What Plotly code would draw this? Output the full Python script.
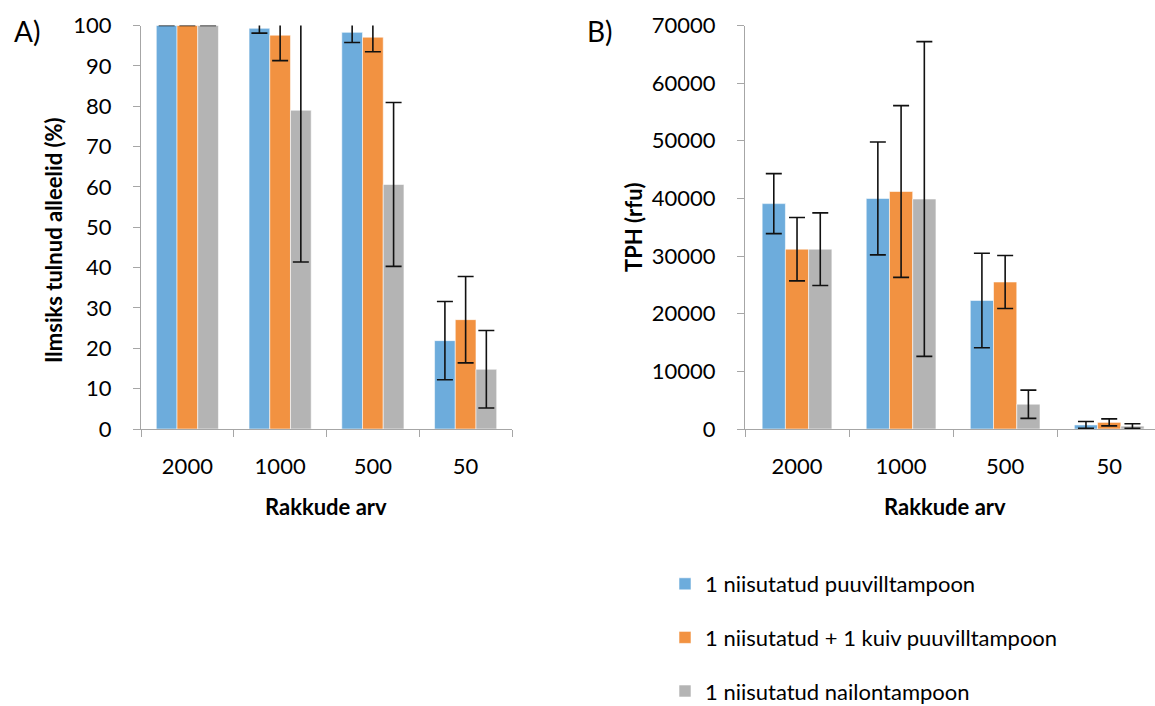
import plotly.graph_objects as go

categories = ["2000", "1000", "500", "50"]
series_names = [
    "1 niisutatud puuvilltampoon",
    "1 niisutatud + 1 kuiv puuvilltampoon",
    "1 niisutatud nailontampoon",
]
colors = ["#6DACDC", "#F29241", "#B4B4B4"]

# Panel A: Ilmsiks tulnud alleelid (%)
a_blue = [100, 99.3, 98.3, 21.9]
a_blue_err = [None, 1.2, 2.5, 9.7]
a_orange = [100, 97.6, 97.1, 27.1]
a_orange_err = [None, 6.3, 3.6, 10.7]
a_gray = [100, 79.0, 60.6, 14.8]
a_gray_err = [None, 37.6, 20.3, 9.6]

# Panel B: TPH (rfu)
b_blue = [39100, 40000, 22300, 700]
b_blue_err = [5200, 9800, 8200, 600]
b_orange = [31200, 41200, 25500, 1150]
b_orange_err = [5500, 14900, 4600, 600]
b_gray = [31200, 39900, 4300, 500]
b_gray_err = [6300, 27300, 2450, 400]

a_vals = [a_blue, a_orange, a_gray]
a_errs = [a_blue_err, a_orange_err, a_gray_err]
b_vals = [b_blue, b_orange, b_gray]
b_errs = [b_blue_err, b_orange_err, b_gray_err]

FONT = "Lato"
W, H = 1155, 706

fig = go.Figure()

def err(arr):
    return dict(type="data", array=arr, visible=True, color="#111111",
                thickness=1.6, width=8)

for i in range(3):
    fig.add_trace(go.Bar(
        x=categories, y=a_vals[i], name=series_names[i],
        marker=dict(color=colors[i], line=dict(color="rgba(255,255,255,0.7)", width=0.8)),
        error_y=err(a_errs[i]), xaxis="x", yaxis="y",
        legendgroup=f"g{i}", showlegend=True,
    ))
for i in range(3):
    fig.add_trace(go.Bar(
        x=categories, y=b_vals[i], name=series_names[i],
        marker=dict(color=colors[i], line=dict(color="rgba(255,255,255,0.7)", width=0.8)),
        error_y=err(b_errs[i]), xaxis="x2", yaxis="y2",
        legendgroup=f"g{i}", showlegend=False,
    ))

axis_line = dict(showline=True, linecolor="#A6A6A6", linewidth=1.3,
                 ticks="outside", tickcolor="#A6A6A6", ticklen=7, tickwidth=1.3,
                 showgrid=False, zeroline=False, automargin=False,
                 tickfont=dict(family=FONT, size=22, color="#000000"))

ydom = [1 - 429 / H, 1 - 25.5 / H]

fig.update_layout(
    width=W, height=H,
    margin=dict(l=0, r=0, t=0, b=0, autoexpand=False),
    paper_bgcolor="white", plot_bgcolor="white",
    barmode="group", bargap=0.33, bargroupgap=0,
    font=dict(family=FONT, color="#000000"),
    xaxis=dict(domain=[141 / W, 512 / W], type="category", range=[-0.5, 3.5],
               tickson="boundaries", anchor="y", ticklabelstandoff=17, **axis_line),
    yaxis=dict(domain=ydom, range=[0, 100], dtick=10, anchor="x",
               ticklabelstandoff=17, **axis_line),
    xaxis2=dict(domain=[745 / W, 1.0], type="category", range=[-0.5, 3.44],
                tickson="boundaries", anchor="y2", ticklabelstandoff=17, **axis_line),
    yaxis2=dict(domain=ydom, range=[0, 70000], dtick=10000, anchor="x2",
                tickformat="d", ticklabelstandoff=17, **axis_line),
    legend=dict(x=665 / W, y=1 - 563 / H, xanchor="left", yanchor="top",
                font=dict(family=FONT, size=22, color="#000000"),
                tracegroupgap=22, itemwidth=30, bgcolor="rgba(0,0,0,0)"),
    showlegend=True,
)

def ann(text, x, y, size, bold=False, angle=0):
    fig.add_annotation(text=f"<b>{text}</b>" if bold else text,
                       x=x / W, y=1 - y / H, xref="paper", yref="paper",
                       showarrow=False, textangle=angle,
                       font=dict(family=FONT, size=size, color="#000000"),
                       xanchor="center", yanchor="middle")

ann("A)", 27, 31, 28)
ann("B)", 600, 31, 28)
ann("Ilmsiks tulnud alleelid (%)", 53, 240, 22, bold=True, angle=-90)
ann("TPH (rfu)", 633, 227, 22, bold=True, angle=-90)
ann("Rakkude arv", 326, 506, 22, bold=True)
ann("Rakkude arv", 945, 506, 22, bold=True)

fig.write_html("out.html")
